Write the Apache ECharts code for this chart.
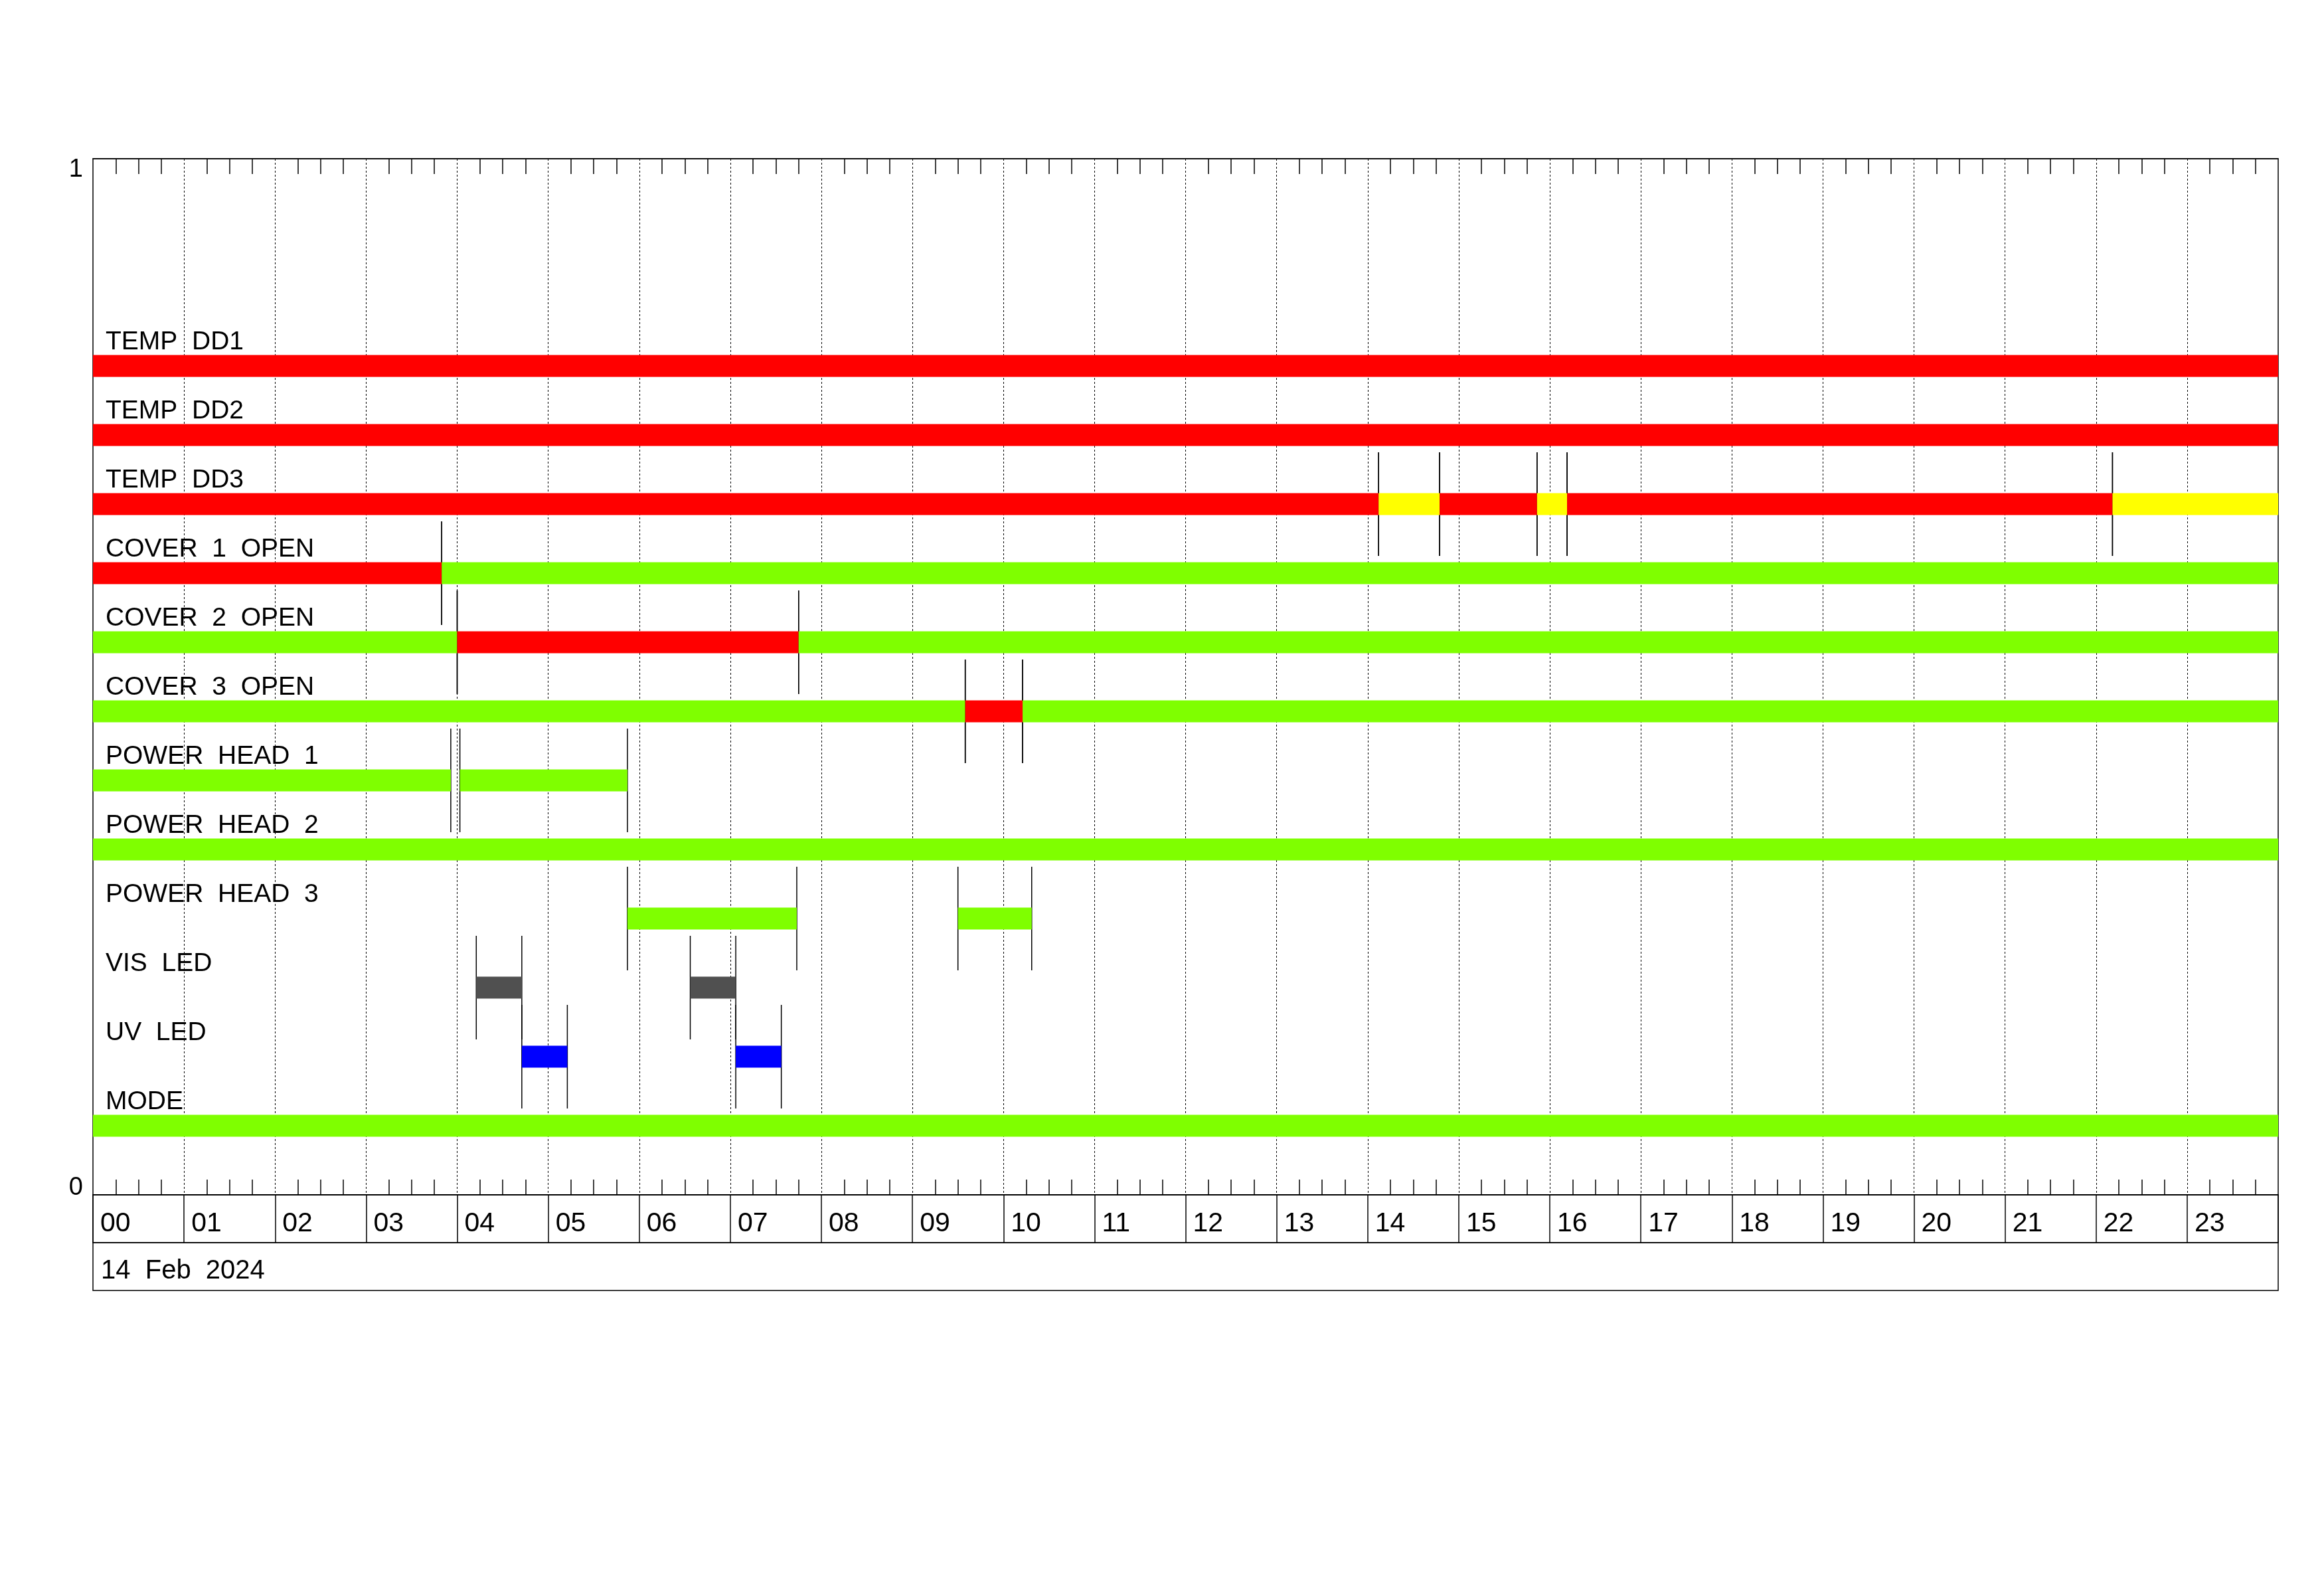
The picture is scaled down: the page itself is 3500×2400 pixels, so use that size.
<!DOCTYPE html>
<html>
<head>
<meta charset="utf-8">
<script src="https://cdn.jsdelivr.net/npm/echarts@6/dist/echarts.min.js"></script>
<style>
  html, body { margin: 0; padding: 0; background: #ffffff; }
  #chart { width: 3500px; height: 2400px; }
</style>
</head>
<body>
<div id="chart"></div>
<script>
// ---------------- DATA ----------------
const rowNames = [
  'TEMP  DD1', 'TEMP  DD2', 'TEMP  DD3',
  'COVER  1  OPEN', 'COVER  2  OPEN', 'COVER  3  OPEN',
  'POWER  HEAD  1', 'POWER  HEAD  2', 'POWER  HEAD  3',
  'VIS  LED', 'UV  LED', 'MODE'
];
const hourLabels = ['00','01','02','03','04','05','06','07','08','09','10','11',
                    '12','13','14','15','16','17','18','19','20','21','22','23'];
const dateLabel = '14  Feb  2024';
const yTickLabels = ['0', '1'];

// segments: [start hour, end hour, state]
const segTempDD1    = [[0, 24, 'ALARM']];
const segTempDD2    = [[0, 24, 'ALARM']];
const segTempDD3    = [[0, 14.12, 'ALARM'], [14.12, 14.79, 'WARN'], [14.79, 15.86, 'ALARM'],
                       [15.86, 16.19, 'WARN'], [16.19, 22.18, 'ALARM'], [22.18, 24, 'WARN']];
const segCover1     = [[0, 3.83, 'ALARM'], [3.83, 24, 'OK']];
const segCover2     = [[0, 4.00, 'OK'], [4.00, 7.75, 'ALARM'], [7.75, 24, 'OK']];
const segCover3     = [[0, 9.58, 'OK'], [9.58, 10.21, 'ALARM'], [10.21, 24, 'OK']];
const segPowerHead1 = [[0, 3.93, 'OK'], [4.03, 5.87, 'OK']];
const segPowerHead2 = [[0, 24, 'OK']];
const segPowerHead3 = [[5.87, 7.73, 'OK'], [9.50, 10.31, 'OK']];
const segVisLed     = [[4.21, 4.71, 'VIS'], [6.56, 7.06, 'VIS']];
const segUvLed      = [[4.71, 5.21, 'UV'], [7.06, 7.56, 'UV']];
const segMode       = [[0, 24, 'OK']];

const rowSegments = [segTempDD1, segTempDD2, segTempDD3, segCover1, segCover2, segCover3,
                     segPowerHead1, segPowerHead2, segPowerHead3, segVisLed, segUvLed, segMode];

// ---------------- STYLE ----------------
const stateColors = { ALARM: '#ff0000', OK: '#7fff00', WARN: '#ffff00', VIS: '#505050', UV: '#0000ff' };
const FONT = 'Liberation Sans';
const BAR_H = 33;
const ROW_SLOTS = rowNames.length + 3;           // rows sit at k/15 on the 0..1 axis
const rowValue = i => (rowNames.length - i) / ROW_SLOTS;
const MARK_HALF = 0.05;                          // half length of transition markers (axis units)

// ---------------- BUILD ----------------
const barData = [];
const markData = [];
rowSegments.forEach((segs, i) => {
  const y = rowValue(i);
  segs.forEach(([s, e, st]) => {
    barData.push({ value: [s, e, y], state: st });
    if (s > 0) markData.push([s, y]);
    if (e < 24) markData.push([e, y]);
  });
});
const labelData = rowNames.map((n, i) => ({ value: [0, rowValue(i)], name: n }));

const chart = echarts.init(document.getElementById('chart'), null, { renderer: 'canvas' });

const gridCommon = { left: 140, width: 3291, show: true, borderColor: '#000', borderWidth: 1.5,
                     backgroundColor: 'transparent', containLabel: false };

const minorTickAxis = (pos) => ({
  type: 'value', gridIndex: 0, position: pos, min: 0, max: 24, interval: 1,
  axisLine: { show: true, onZero: false, lineStyle: { color: '#000', width: 1.5 } },
  axisTick: { show: true, inside: true, length: 0, lineStyle: { color: 'rgba(0,0,0,0)', width: 0 } },
  minorTick: { show: true, splitNumber: 4, length: 23, lineStyle: { color: '#000', width: 1.5 } },
  axisLabel: { show: false },
  splitLine: pos === 'bottom'
    ? { show: true, showMinLine: false, showMaxLine: false, lineStyle: { color: '#000', width: 1, type: [3, 3] } }
    : { show: false },
  minorSplitLine: { show: false }
});

const option = {
  backgroundColor: '#ffffff',
  animation: false,
  grid: [
    Object.assign({ top: 239, height: 1560 }, gridCommon),
    Object.assign({ top: 1799, height: 72 }, gridCommon),
    Object.assign({ top: 1871, height: 72 }, gridCommon)
  ],
  xAxis: [
    minorTickAxis('bottom'),
    minorTickAxis('top'),
    {
      type: 'value', gridIndex: 1, position: 'bottom', min: 0, max: 24, interval: 1,
      axisLine: { show: false, onZero: false }, axisTick: { show: false },
      axisLabel: {
        inside: true, margin: 28, align: 'left', verticalAlign: 'middle', padding: [0, 0, 0, 11],
        color: '#000', fontFamily: FONT, fontSize: 41,
        formatter: v => (v >= 0 && v < 24 ? hourLabels[Math.round(v)] : '')
      },
      splitLine: { show: true, lineStyle: { color: '#000', width: 1.5 } }
    },
    {
      type: 'value', gridIndex: 2, position: 'bottom', min: 0, max: 24, interval: 24,
      axisLine: { show: false, onZero: false }, axisTick: { show: false },
      axisLabel: {
        inside: true, margin: 29, align: 'left', verticalAlign: 'middle', padding: [0, 0, 0, 12],
        color: '#000', fontFamily: FONT, fontSize: 40,
        formatter: v => (v === 0 ? dateLabel : '')
      },
      splitLine: { show: false }
    }
  ],
  yAxis: [
    {
      type: 'value', gridIndex: 0, position: 'left', min: 0, max: 1, interval: 1,
      axisLine: { show: false, onZero: false }, axisTick: { show: false }, splitLine: { show: false },
      axisLabel: { margin: 15, color: '#000', fontFamily: FONT, fontSize: 38,
                   verticalAlign: 'top', lineHeight: 33,
                   formatter: v => (v === 1 ? yTickLabels[1] : '') }
    },
    {
      type: 'value', gridIndex: 0, position: 'left', min: 0, max: 1, interval: 1,
      axisLine: { show: false, onZero: false }, axisTick: { show: false }, splitLine: { show: false },
      axisLabel: { margin: 15, color: '#000', fontFamily: FONT, fontSize: 38,
                   verticalAlign: 'bottom', lineHeight: 20,
                   formatter: v => (v === 0 ? yTickLabels[0] : '') }
    },
    { type: 'value', gridIndex: 1, min: 0, max: 1, show: false, axisLine: { onZero: false } },
    { type: 'value', gridIndex: 2, min: 0, max: 1, show: false, axisLine: { onZero: false } }
  ],
  series: [
    {
      type: 'custom', name: 'markers', xAxisIndex: 0, yAxisIndex: 0, z: 2,
      data: markData,
      renderItem: (params, api) => {
        const t = api.value(0), y = api.value(1);
        const top = api.coord([t, y + MARK_HALF]);
        const bot = api.coord([t, y - MARK_HALF]);
        return { type: 'line', shape: { x1: top[0], y1: top[1], x2: bot[0], y2: bot[1] },
                 style: { stroke: '#000', lineWidth: 1.5 } };
      }
    },
    {
      type: 'custom', name: 'bars', xAxisIndex: 0, yAxisIndex: 0, z: 3,
      data: barData,
      renderItem: (params, api) => {
        const s = api.value(0), e = api.value(1), y = api.value(2);
        const p1 = api.coord([s, y]);
        const p2 = api.coord([e, y]);
        const st = barData[params.dataIndex].state;
        return { type: 'rect',
                 shape: { x: p1[0], y: p1[1] - BAR_H / 2, width: p2[0] - p1[0], height: BAR_H },
                 style: { fill: stateColors[st] } };
      }
    },
    {
      type: 'custom', name: 'rowLabels', xAxisIndex: 0, yAxisIndex: 0, z: 4,
      data: labelData,
      renderItem: (params, api) => {
        const p = api.coord([api.value(0), api.value(1)]);
        return { type: 'text', x: p[0] + 19, y: p[1] - 35.5,
                 style: { text: labelData[params.dataIndex].name, fill: '#000',
                          font: '39px "' + FONT + '"', align: 'left', verticalAlign: 'middle' } };
      }
    }
  ]
};
chart.setOption(option);
</script>
</body>
</html>
